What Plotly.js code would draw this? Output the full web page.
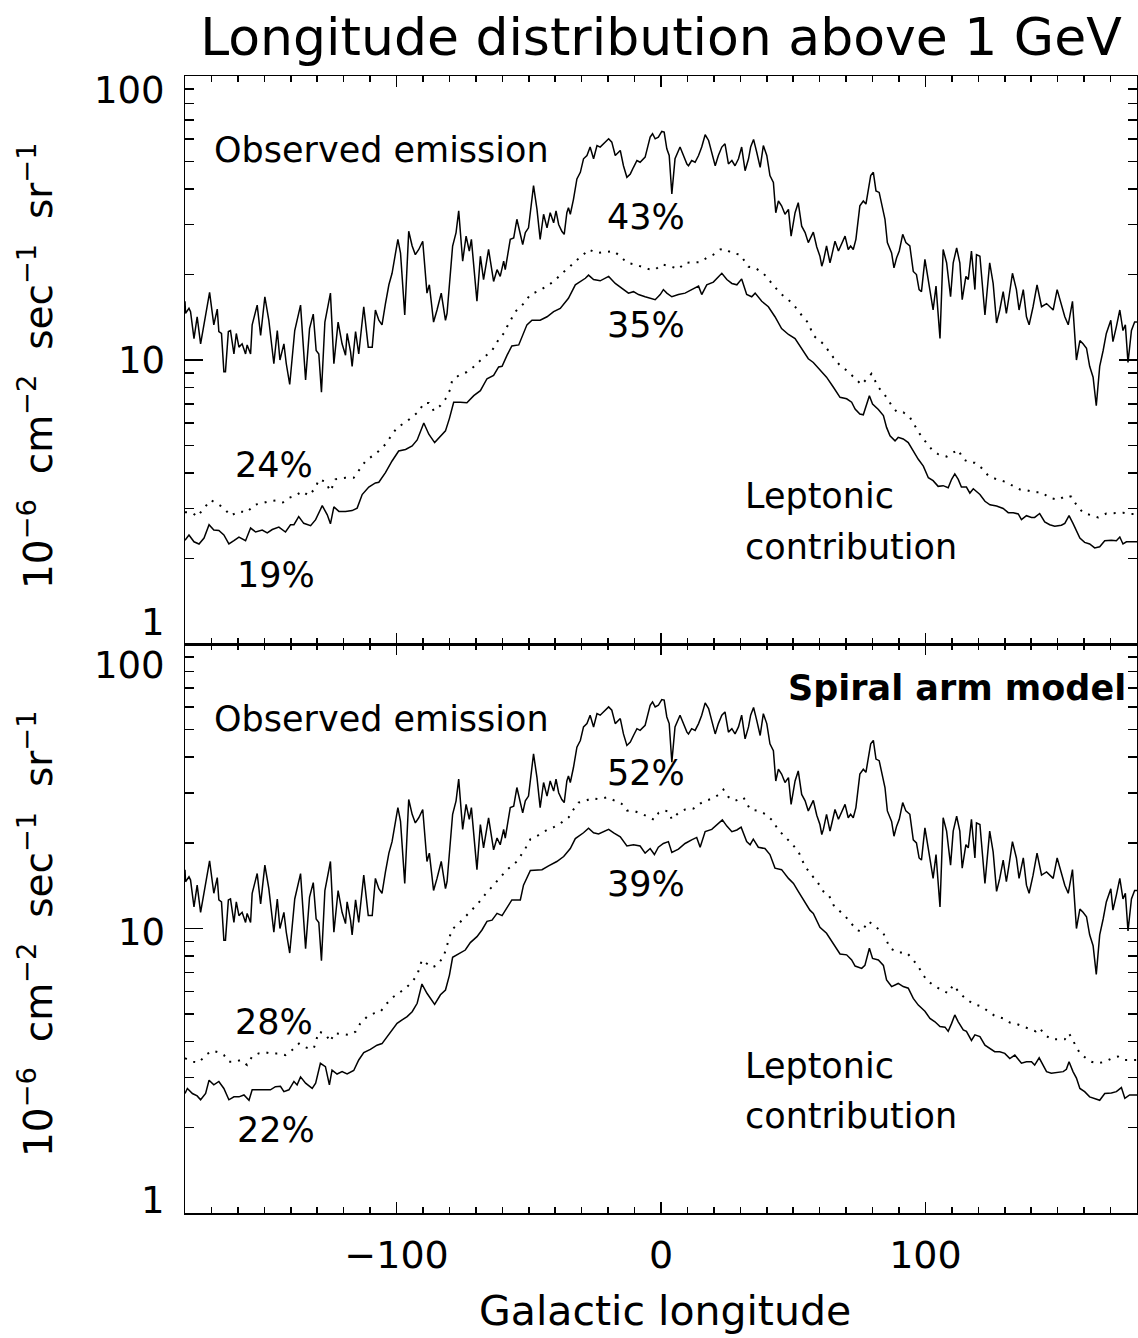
<!DOCTYPE html>
<html><head><meta charset="utf-8">
<script src="https://cdn.plot.ly/plotly-3.0.1.min.js"></script>
<style>html,body{margin:0;padding:0;background:#fff}</style>
</head><body><div id="chart" style="width:1138px;height:1338px"></div>
<script>
// Observed emission (same map in both panels): [longitude, flux]
const observed = [[-180,16.1],[-179.8,14.6],[-178.5,15.2],[-177.9,14.8],[-176.6,11.9],[-175.4,14.2],[-174.1,11.4],[-172.2,14.6],[-170.7,17.3],[-169.1,13.3],[-167.8,15.1],[-167.2,12.6],[-166.2,12.4],[-165.3,9.1],[-164.7,9.1],[-163.6,12.6],[-162.8,12.7],[-161.5,10.5],[-160.6,12.4],[-159.6,11.1],[-158.4,11.4],[-157.1,10.5],[-156.5,11.3],[-155.2,10.5],[-154.6,13.3],[-152.7,15.6],[-151.4,12.2],[-149.8,16.7],[-148.3,13.8],[-146.4,9.7],[-145.1,12.7],[-144.1,10.0],[-142.6,11.4],[-141.7,9.7],[-140.4,8.2],[-138.5,12.7],[-137.2,14.6],[-136.3,15.6],[-135.4,11.7],[-134.4,8.5],[-132.9,12.9],[-131.5,14.5],[-130.4,10.8],[-129.4,10.5],[-128.4,7.7],[-127.1,13.6],[-125.0,17.2],[-123.7,9.7],[-122.1,13.6],[-120.6,11.4],[-119.3,10.4],[-118.7,12.4],[-117.4,10.7],[-116.8,9.5],[-115.5,12.6],[-114.3,10.5],[-112.4,15.4],[-110.7,11.1],[-109.2,11.1],[-108.0,15.0],[-106.7,13.8],[-105.5,13.3],[-104.2,15.8],[-102.9,18.4],[-101.7,20.2],[-100.4,23.8],[-99.5,26.6],[-98.5,23.8],[-96.9,14.4],[-95.4,28.4],[-94.1,25.2],[-92.9,23.5],[-91.6,24.5],[-90.1,26.2],[-88.5,17.2],[-87.6,18.4],[-86.0,13.6],[-84.7,15.0],[-83.1,17.2],[-81.5,13.8],[-80.9,14.6],[-78.8,25.2],[-77.5,28.1],[-76.5,33.5],[-75.0,22.3],[-73.7,27.3],[-72.5,24.2],[-71.7,26.6],[-71.2,23.8],[-69.6,16.1],[-68.3,23.2],[-67.1,19.2],[-65.2,24.5],[-63.3,18.9],[-62.0,20.8],[-60.8,19.7],[-59.5,22.3],[-58.9,20.8],[-57.0,26.6],[-55.7,26.9],[-54.5,31.3],[-53.2,28.1],[-52.3,25.5],[-51.3,28.1],[-50.1,29.2],[-48.2,41.1],[-46.9,33.9],[-45.7,26.6],[-44.4,32.6],[-43.1,29.2],[-41.9,33.0],[-40.6,30.4],[-39.7,33.5],[-38.7,30.0],[-37.5,28.4],[-36.6,27.7],[-35.6,33.0],[-35.0,34.4],[-34.3,32.6],[-33.1,36.8],[-31.8,43.4],[-30.5,45.8],[-29.3,51.1],[-28.0,52.5],[-26.8,56.2],[-25.5,51.1],[-24.2,56.9],[-23.0,56.2],[-21.1,58.5],[-19.8,60.1],[-18.6,58.5],[-17.3,52.5],[-15.4,54.7],[-14.2,48.3],[-12.9,44.0],[-11.6,45.2],[-10.4,47.7],[-9.1,50.4],[-7.9,49.7],[-6.0,51.8],[-4.1,60.9],[-3.2,62.6],[-2.2,60.1],[-1.0,60.9],[0.3,63.8],[1.2,63.5],[2.2,55.4],[3.1,52.5],[4.1,38.4],[5.3,51.1],[7.2,56.2],[8.5,52.5],[9.8,49.0],[10.4,48.3],[11.6,50.4],[12.9,49.7],[14.2,52.5],[15.4,56.2],[16.7,62.1],[18.0,59.3],[19.2,53.2],[20.5,48.3],[21.7,52.5],[23.0,56.2],[24.2,57.7],[25.5,49.0],[26.8,50.4],[28.0,48.3],[29.3,51.1],[30.5,56.2],[31.8,46.4],[33.1,51.1],[33.9,56.2],[35.0,59.8],[36.2,53.9],[37.5,47.7],[38.7,56.9],[40.0,52.5],[41.2,44.6],[42.5,42.2],[43.4,33.0],[44.4,36.3],[45.6,34.9],[46.9,32.6],[48.2,33.9],[49.2,27.3],[50.7,33.0],[51.9,35.8],[53.2,29.6],[54.5,28.1],[55.7,25.9],[57.6,28.2],[58.9,25.0],[60.1,23.2],[60.8,21.4],[61.4,22.3],[62.6,25.2],[63.9,22.0],[64.5,23.2],[65.8,26.2],[67.1,24.2],[68.3,25.5],[69.6,27.3],[70.8,24.5],[71.7,25.2],[72.7,24.5],[73.7,26.6],[75.2,34.9],[76.5,36.3],[77.5,35.4],[78.4,39.4],[79.3,44.6],[80.3,45.8],[81.3,39.4],[82.5,38.9],[83.4,35.8],[84.7,31.3],[85.6,25.9],[87.2,23.8],[88.1,21.1],[89.1,22.9],[90.1,24.2],[91.4,27.7],[92.6,25.9],[94.1,25.2],[95.4,20.5],[96.6,20.0],[97.6,17.7],[98.5,17.4],[99.8,22.6],[101.1,19.2],[102.3,16.7],[102.9,15.0],[104.0,18.2],[105.5,11.9],[106.7,24.5],[108.0,22.0],[109.5,16.7],[110.5,22.0],[111.8,24.8],[113.0,22.0],[113.9,16.3],[115.3,19.7],[116.2,19.2],[117.4,24.2],[118.7,17.7],[119.3,23.5],[120.6,23.2],[121.8,17.7],[122.5,14.4],[124.3,22.0],[125.6,18.6],[126.9,13.5],[128.1,15.0],[129.4,17.4],[130.6,14.6],[131.6,16.7],[132.9,20.2],[134.4,17.7],[135.4,15.0],[137.0,17.7],[138.2,14.2],[139.2,13.3],[140.7,15.4],[142.2,18.4],[143.9,15.4],[145.8,15.8],[147.0,15.4],[148.3,15.0],[149.8,17.7],[151.4,15.8],[152.7,14.2],[154.0,13.3],[155.6,16.1],[157.1,10.0],[158.4,11.7],[159.6,11.4],[160.9,11.0],[162.1,9.5],[163.4,8.7],[164.6,6.9],[165.9,9.5],[167.2,10.8],[168.4,12.4],[170.1,13.8],[170.9,11.6],[172.2,13.1],[173.5,15.0],[174.7,12.7],[175.6,13.3],[176.6,9.8],[177.9,12.7],[179.1,13.6],[180,13.6]];

// Top panel leptonic contribution (solid = lower, dotted = upper)
const topSolid = [[-180,2.32],[-178.5,2.42],[-176.6,2.29],[-174.7,2.25],[-172.8,2.36],[-170.9,2.63],[-169.1,2.52],[-167.2,2.51],[-165.3,2.42],[-163.4,2.25],[-161.5,2.31],[-159.6,2.38],[-157.1,2.31],[-155.2,2.56],[-153.3,2.48],[-150.8,2.52],[-148.9,2.46],[-147.0,2.53],[-144.5,2.58],[-142.0,2.48],[-140.1,2.63],[-138.8,2.63],[-137.0,2.81],[-135.1,2.66],[-132.5,2.61],[-130.6,2.74],[-128.1,3.07],[-126.2,2.85],[-125.0,2.65],[-123.7,3.04],[-121.8,2.93],[-119.3,2.93],[-116.8,2.95],[-114.9,3.01],[-113.0,3.36],[-110.5,3.57],[-108.0,3.69],[-106.7,3.71],[-104.2,4.01],[-101.7,4.41],[-99.2,4.78],[-96.6,4.84],[-94.1,4.98],[-92.2,5.23],[-89.7,6.00],[-87.8,5.48],[-85.6,5.12],[-83.4,5.41],[-81.5,5.63],[-80.0,6.23],[-78.4,7.10],[-75.9,7.10],[-73.4,7.07],[-70.8,7.49],[-68.3,7.80],[-65.8,8.59],[-63.3,8.82],[-61.4,9.45],[-60.1,9.50],[-58.2,10.4],[-56.4,11.2],[-53.8,11.3],[-52.6,12.1],[-50.7,13.3],[-48.8,13.8],[-45.7,13.8],[-43.1,14.2],[-40.6,14.8],[-38.1,15.2],[-35.0,16.5],[-32.4,18.4],[-30.5,18.9],[-28.6,19.4],[-27.4,19.9],[-25.5,19.2],[-23.0,19.0],[-19.8,19.7],[-17.3,18.6],[-14.8,17.9],[-12.3,17.2],[-10.4,17.4],[-8.5,17.0],[-6.0,16.7],[-3.5,16.5],[-2.2,16.3],[-0.3,17.0],[0.9,17.7],[2.2,17.2],[4.1,16.7],[6.6,17.0],[9.1,17.2],[11.6,17.7],[14.2,18.2],[15.4,17.0],[17.3,18.4],[19.8,18.8],[21.7,19.7],[23.0,20.2],[24.9,19.2],[26.8,18.6],[28.7,18.4],[30.5,19.3],[32.4,17.0],[34.3,16.7],[35.6,17.2],[38.1,16.1],[40.6,15.4],[43.1,14.2],[45.6,12.9],[48.2,12.3],[50.7,11.9],[53.2,11.0],[55.7,10.1],[57.6,9.8],[60.1,9.19],[62.6,8.70],[65.2,8.02],[67.7,7.39],[70.2,7.30],[72.1,7.10],[73.4,6.72],[75.2,6.45],[76.5,6.41],[77.5,6.81],[78.8,7.49],[80.0,7.00],[82.2,6.69],[84.1,6.37],[85.3,5.79],[86.6,5.41],[88.5,5.19],[89.7,5.34],[91.6,5.27],[93.5,5.12],[95.4,4.78],[97.3,4.47],[99.2,4.23],[101.1,3.85],[102.9,3.76],[104.8,3.59],[106.7,3.61],[108.6,3.55],[109.9,3.80],[111.1,3.97],[112.4,3.80],[113.6,3.57],[115.5,3.57],[116.8,3.40],[118.1,3.52],[119.3,3.45],[120.6,3.36],[122.5,3.18],[124.4,3.09],[126.9,3.06],[129.4,3.00],[131.3,2.90],[133.2,2.90],[135.1,2.87],[136.3,2.74],[138.2,2.83],[140.1,2.79],[141.3,2.79],[143.2,2.88],[145.1,2.69],[147.0,2.63],[148.9,2.60],[151.4,2.62],[152.7,2.66],[154.3,2.83],[155.8,2.66],[157.1,2.52],[158.4,2.36],[160.2,2.28],[162.1,2.25],[164.0,2.18],[165.9,2.20],[167.8,2.31],[170.3,2.32],[172.2,2.31],[173.5,2.38],[174.7,2.25],[176.0,2.29],[178.5,2.29],[180,2.29]];

const topDotted = [[-180,2.91],[-177.2,2.90],[-175.4,2.81],[-172.8,3.01],[-170.3,3.21],[-167.8,3.12],[-165.3,3.01],[-162.8,2.83],[-159.6,2.93],[-156.5,2.91],[-153.9,3.09],[-150.8,3.13],[-148.3,3.18],[-145.8,3.20],[-143.0,3.15],[-140.7,3.27],[-138.2,3.33],[-135.7,3.45],[-133.2,3.33],[-130.6,3.55],[-129.4,3.80],[-126.9,3.73],[-125.0,3.45],[-123.1,3.80],[-119.3,3.85],[-116.2,3.85],[-113.7,4.14],[-111.7,4.41],[-109.2,4.59],[-106.7,4.78],[-104.2,5.05],[-101.7,5.48],[-99.8,5.79],[-96.6,6.03],[-94.1,6.28],[-91.6,6.58],[-89.7,7.06],[-87.8,7.06],[-85.9,6.62],[-83.4,6.91],[-81.5,7.29],[-79.6,7.91],[-79.0,8.47],[-76.5,8.82],[-73.4,9.07],[-70.2,9.56],[-68.3,9.97],[-66.4,10.3],[-63.9,10.8],[-61.4,11.8],[-58.9,12.6],[-58.2,13.1],[-55.1,14.8],[-51.9,15.8],[-49.4,17.0],[-46.3,17.5],[-43.1,18.2],[-40.0,19.1],[-37.5,20.2],[-34.9,21.1],[-32.4,22.3],[-29.9,23.2],[-27.4,24.5],[-24.2,23.8],[-21.1,24.0],[-18.0,24.2],[-15.4,23.2],[-12.9,22.0],[-9.8,21.7],[-7.2,21.3],[-4.7,20.9],[-2.2,20.8],[0.3,21.7],[3.5,21.4],[6.6,20.9],[9.1,22.0],[12.3,22.1],[14.8,22.1],[17.3,22.9],[19.8,23.5],[22.4,24.5],[24.2,24.6],[26.8,23.8],[29.9,23.5],[33.1,21.3],[35.6,21.1],[38.7,20.2],[41.9,18.6],[45.0,17.2],[48.2,16.3],[50.7,15.4],[52.6,14.6],[55.7,13.5],[57.6,12.2],[61.4,11.4],[65.2,10.2],[67.7,9.56],[70.2,9.19],[73.4,8.59],[75.9,8.18],[77.8,8.59],[79.6,8.94],[82.2,8.02],[85.3,7.39],[87.2,6.91],[89.1,6.58],[91.6,6.55],[94.1,6.28],[96.0,5.87],[97.9,5.48],[99.8,5.19],[102.3,4.85],[104.8,4.66],[108.0,4.57],[110.5,4.72],[112.4,4.83],[114.3,4.47],[116.8,4.35],[118.7,4.35],[121.2,4.17],[123.7,3.92],[126.9,3.80],[130.0,3.73],[133.2,3.59],[135.7,3.50],[138.2,3.48],[141.3,3.42],[143.9,3.42],[147.0,3.27],[150.2,3.22],[153.3,3.33],[155.2,3.30],[157.1,3.09],[159.6,2.90],[162.8,2.83],[165.3,2.79],[168.4,2.88],[172.2,2.90],[174.7,2.90],[177.2,2.87],[180,2.87]];

// Bottom panel (spiral arm model)
const botSolid = [[-180,2.63],[-179.1,2.74],[-177.2,2.63],[-175.4,2.58],[-174.1,2.50],[-172.2,2.63],[-170.9,2.93],[-169.1,2.82],[-167.2,2.90],[-165.3,2.74],[-163.4,2.50],[-161.5,2.56],[-159.6,2.56],[-157.7,2.60],[-155.8,2.49],[-154.6,2.71],[-152.1,2.71],[-149.5,2.71],[-147.7,2.71],[-145.8,2.78],[-143.9,2.79],[-142.6,2.67],[-140.7,2.71],[-138.8,2.90],[-137.6,2.82],[-136.3,3.01],[-134.4,2.86],[-131.9,2.74],[-130.6,2.86],[-128.8,3.36],[-126.9,3.27],[-125.4,2.82],[-124.4,3.18],[-122.5,3.08],[-120.6,3.14],[-118.7,3.08],[-116.2,3.17],[-114.3,3.45],[-112.4,3.66],[-109.9,3.76],[-107.4,3.89],[-105.5,3.94],[-103.6,4.17],[-101.7,4.40],[-99.8,4.64],[-97.9,4.77],[-96.0,4.90],[-94.1,5.10],[-92.2,5.46],[-90.4,6.38],[-88.5,5.92],[-85.6,5.41],[-83.4,5.85],[-81.5,6.08],[-80.0,6.86],[-78.8,7.92],[-76.5,8.14],[-74.0,8.40],[-72.1,8.92],[-69.6,9.36],[-67.7,9.88],[-65.8,10.6],[-63.9,10.7],[-62.0,11.3],[-60.1,11.1],[-58.9,11.6],[-56.4,12.6],[-53.2,12.6],[-52.0,14.2],[-49.4,16.0],[-46.9,16.1],[-45.0,16.1],[-42.5,16.6],[-39.4,17.2],[-36.8,17.9],[-34.3,19.1],[-32.4,20.7],[-30.5,21.3],[-29.3,21.7],[-27.4,22.5],[-25.5,21.7],[-23.6,21.5],[-21.7,21.9],[-19.8,22.3],[-17.9,21.7],[-15.4,21.0],[-12.9,19.5],[-10.4,19.7],[-7.9,19.5],[-6.0,18.4],[-4.1,19.1],[-2.5,18.2],[-1.0,19.3],[0.9,19.9],[2.8,20.2],[4.1,18.5],[6.6,19.0],[9.1,19.9],[11.6,20.5],[13.5,20.9],[14.8,19.3],[16.7,21.9],[19.2,22.3],[21.7,23.3],[23.2,24.1],[24.9,22.9],[26.8,21.9],[28.7,22.2],[30.3,22.7],[32.4,20.2],[33.7,19.7],[34.9,20.6],[36.8,19.3],[39.3,19.1],[41.2,18.2],[43.1,16.3],[45.6,16.1],[48.2,15.0],[50.1,14.4],[51.9,13.5],[54.5,12.3],[56.3,11.6],[57.6,11.3],[60.1,10.1],[62.6,9.62],[65.2,8.87],[67.7,8.14],[70.2,8.08],[72.1,7.75],[73.4,7.38],[75.9,7.24],[77.1,7.42],[78.8,8.52],[80.0,7.85],[82.2,7.75],[84.1,7.42],[85.3,6.59],[87.2,6.25],[89.7,6.41],[91.6,6.25],[93.5,6.17],[95.4,5.68],[97.3,5.38],[99.8,5.12],[101.7,4.83],[103.6,4.70],[105.5,4.52],[107.4,4.50],[108.6,4.35],[109.9,4.64],[111.1,4.97],[112.4,4.70],[114.3,4.40],[115.5,4.35],[117.4,4.04],[118.7,4.23],[120.6,4.17],[122.5,3.89],[124.4,3.79],[126.2,3.69],[128.1,3.69],[130.0,3.64],[131.9,3.49],[133.8,3.59],[136.3,3.36],[138.2,3.40],[140.1,3.40],[141.3,3.31],[143.0,3.51],[144.5,3.31],[145.8,3.14],[147.6,3.10],[149.5,3.11],[152.1,3.14],[153.3,3.20],[154.3,3.40],[155.8,3.14],[157.1,2.98],[158.4,2.74],[160.2,2.67],[162.1,2.56],[164.0,2.53],[165.9,2.49],[167.8,2.63],[170.3,2.64],[172.2,2.67],[174.1,2.76],[175.4,2.53],[177.2,2.60],[179.1,2.60],[180,2.60]];

const botDotted = [[-180,3.50],[-177.2,3.40],[-174.7,3.38],[-172.2,3.59],[-169.7,3.72],[-167.2,3.67],[-165.3,3.59],[-163.4,3.40],[-160.9,3.40],[-159.0,3.45],[-156.5,3.31],[-154.6,3.55],[-152.1,3.64],[-149.5,3.67],[-147.0,3.63],[-144.5,3.64],[-142.0,3.59],[-139.5,3.74],[-136.9,3.94],[-135.1,3.84],[-133.2,3.79],[-131.3,3.79],[-129.4,4.34],[-126.9,4.26],[-125.0,4.00],[-123.7,4.28],[-120.6,4.26],[-118.1,4.23],[-115.5,4.34],[-113.7,4.64],[-111.1,4.90],[-108.6,5.03],[-106.1,5.10],[-103.6,5.46],[-101.1,5.76],[-99.2,5.92],[-96.6,6.16],[-94.1,6.50],[-92.2,6.86],[-90.4,7.75],[-88.5,7.54],[-86.6,7.30],[-84.7,7.42],[-82.2,7.96],[-80.3,9.11],[-79.0,9.93],[-76.5,10.4],[-74.0,11.0],[-71.5,11.6],[-69.0,12.3],[-66.4,13.2],[-63.9,14.0],[-62.0,14.6],[-58.2,16.1],[-54.5,17.2],[-51.3,19.1],[-49.4,20.6],[-46.3,21.3],[-43.1,22.2],[-40.6,22.7],[-38.1,23.4],[-34.9,24.6],[-33.1,26.2],[-31.2,27.7],[-28.6,28.1],[-26.1,28.7],[-23.6,28.5],[-20.5,28.9],[-17.3,28.1],[-14.8,27.4],[-12.9,26.0],[-9.8,25.8],[-7.2,25.3],[-4.7,24.7],[-2.6,24.1],[-0.9,25.5],[1.0,26.0],[2.8,25.8],[4.1,24.2],[6.6,25.5],[9.1,26.2],[12.3,26.4],[14.8,27.5],[17.3,28.2],[19.8,28.7],[21.7,29.5],[23.6,30.8],[25.5,29.0],[28.0,28.1],[31.2,28.9],[33.7,26.2],[36.2,26.0],[39.3,25.3],[41.9,24.1],[44.4,22.2],[46.9,21.0],[49.4,19.9],[52.0,18.6],[54.5,16.5],[57.0,15.4],[59.5,14.4],[61.4,13.5],[63.3,13.2],[65.2,12.1],[67.7,11.5],[70.2,10.9],[74.0,9.88],[75.9,9.75],[78.4,10.6],[80.9,10.2],[84.1,9.62],[86.6,8.52],[89.7,8.23],[92.9,8.23],[95.4,7.75],[97.3,7.34],[100.4,6.59],[102.9,6.33],[106.1,6.08],[108.6,5.92],[110.5,6.33],[113.0,5.92],[115.5,5.64],[118.1,5.43],[121.2,5.32],[123.7,5.12],[126.2,4.93],[129.4,4.83],[131.9,4.67],[134.4,4.62],[136.9,4.52],[139.5,4.42],[141.7,4.35],[143.2,4.47],[145.1,4.23],[147.6,4.08],[150.8,4.08],[152.7,4.08],[154.3,4.28],[156.5,3.94],[158.4,3.64],[160.9,3.49],[162.8,3.40],[165.3,3.36],[167.8,3.40],[170.3,3.49],[172.8,3.55],[175.4,3.45],[177.9,3.45],[180,3.45]];

const xTickVals = [-100, 0, 100];
const xTickText = ['\u2212100', '0', '100'];
const yTickVals = [1, 10, 100];
const yTickText = ['1', '10', '100'];
const yMinorVals = [2,3,4,5,6,7,8,9,20,30,40,50,60,70,80,90];
const topPct = ['43%', '35%', '24%', '19%'];
const botPct = ['52%', '39%', '28%', '22%'];

// ---------- layout helpers (pixel geometry) ----------
const W = 1138, H = 1338;
const L = 185, R = 1, T = 76, B = 125;
const plotW = W - L - R, plotH = H - T - B;
const PX = x => (x - L) / plotW;          // pixel x -> paper x
const PY = y => (H - B - y) / plotH;      // pixel y -> paper y
const split = PY(644);

const FONT = 'DejaVu Sans';
const BLACK = '#000';

const xs = a => a.map(p => p[0]);
const ys = a => a.map(p => p[1]);
const solid = {color: BLACK, width: 1.5};
const dotted = {color: BLACK, width: 2, dash: '2px,7px'};

const traces = [
  {x: xs(observed), y: ys(observed), xaxis: 'x2', yaxis: 'y', mode: 'lines', line: solid, hoverinfo: 'skip'},
  {x: xs(topDotted), y: ys(topDotted), xaxis: 'x2', yaxis: 'y', mode: 'lines', line: dotted, hoverinfo: 'skip'},
  {x: xs(topSolid), y: ys(topSolid), xaxis: 'x2', yaxis: 'y', mode: 'lines', line: solid, hoverinfo: 'skip'},
  {x: xs(observed), y: ys(observed), xaxis: 'x', yaxis: 'y2', mode: 'lines', line: solid, hoverinfo: 'skip'},
  {x: xs(botDotted), y: ys(botDotted), xaxis: 'x', yaxis: 'y2', mode: 'lines', line: dotted, hoverinfo: 'skip'},
  {x: xs(botSolid), y: ys(botSolid), xaxis: 'x', yaxis: 'y2', mode: 'lines', line: solid, hoverinfo: 'skip'}
];

const xCommon = {
  range: [-180, 180], showgrid: false, zeroline: false,
  showline: true, linecolor: BLACK, linewidth: 1.5, mirror: 'allticks',
  ticks: 'inside', ticklen: 11, tickwidth: 1.5, tickcolor: BLACK,
  tickmode: 'array', tickvals: xTickVals, ticktext: xTickText,
  minor: {dtick: 10, tick0: 0, ticks: 'inside', ticklen: 6, tickwidth: 1.5, tickcolor: BLACK, showgrid: false}
};
const yCommon = {
  type: 'log', range: [0, 2], showgrid: false, zeroline: false,
  showline: true, linecolor: BLACK, linewidth: 1.5, mirror: 'allticks',
  ticks: 'inside', ticklen: 18, tickwidth: 1.5, tickcolor: BLACK,
  tickmode: 'array', tickvals: yTickVals, ticktext: yTickText, showticklabels: false,
  minor: {tickmode: 'array', tickvals: yMinorVals, ticks: 'inside', ticklen: 9, tickwidth: 1.5, tickcolor: BLACK, showgrid: false}
};

const ann = [];
const txt = (text, x, y, size, xanchor, extra) => ann.push(Object.assign({
  text: text, xref: 'paper', yref: 'paper', x: PX(x), y: PY(y),
  xanchor: xanchor || 'center', yanchor: 'middle', showarrow: false,
  font: {family: FONT, size: size, color: BLACK}
}, extra || {}));

// y tick labels (IDL nudges the end labels inward)
[[90, 360, 622], [665, 932, 1200]].forEach(pos => {
  txt(yTickText[2], 167, pos[0], 37, 'right', {height: 30});
  txt(yTickText[1], 167, pos[1], 37, 'right', {height: 30});
  txt(yTickText[0], 167, pos[2], 37, 'right', {height: 30});
});

// y axis titles
const yTitle = '10<sup>\u22126</sup>\u00a0 cm<sup>\u22122</sup>\u00a0 sec<sup>\u22121</sup>\u00a0 sr<sup>\u22121</sup>';
txt(yTitle, 36, 366, 39, 'center', {textangle: -90});
txt(yTitle, 36, 934, 39, 'center', {textangle: -90});

// x axis title
txt('Galactic longitude', 665, 1311, 41, 'center');

// panel labels
txt('Observed emission', 212, 150, 35, 'left');
txt('Observed emission', 212, 719, 35, 'left');
txt('Spiral arm model', 1128, 688, 35, 'right', {font: {family: FONT, size: 35, color: BLACK, weight: 'bold'}});
txt(topPct[0], 646, 217, 35);
txt(topPct[1], 646, 325, 35);
txt(topPct[2], 274, 465, 35);
txt(topPct[3], 276, 575, 35);
txt(botPct[0], 646, 773, 35);
txt(botPct[1], 646, 884, 35);
txt(botPct[2], 274, 1022, 35);
txt(botPct[3], 276, 1130, 35);
txt('Leptonic', 743, 496, 35, 'left');
txt('contribution', 743, 547, 35, 'left');
txt('Leptonic', 743, 1066, 35, 'left');
txt('contribution', 743, 1116, 35, 'left');

const layout = {
  width: W, height: H,
  margin: {l: L, r: R, t: T, b: B, pad: 0},
  paper_bgcolor: '#fff', plot_bgcolor: '#fff',
  showlegend: false,
  font: {family: FONT, color: BLACK},
  title: {
    text: 'Longitude distribution above 1 GeV',
    font: {family: FONT, size: 52, color: BLACK},
    xref: 'paper', x: 0.5, xanchor: 'center',
    yref: 'container', y: 1 - 37 / H, yanchor: 'middle'
  },
  xaxis: Object.assign({}, xCommon, {anchor: 'y2', domain: [0, 1],
    showticklabels: true, tickfont: {family: FONT, size: 38, color: BLACK}, ticklabelstandoff: 8}),
  xaxis2: Object.assign({}, xCommon, {anchor: 'y', domain: [0, 1], matches: 'x', showticklabels: false}),
  yaxis: Object.assign({}, yCommon, {anchor: 'x2', domain: [split, 1]}),
  yaxis2: Object.assign({}, yCommon, {anchor: 'x', domain: [0, split]}),
  annotations: ann
};

Plotly.newPlot('chart', traces, layout, {staticPlot: true, displayModeBar: false});
</script>
</body></html>
